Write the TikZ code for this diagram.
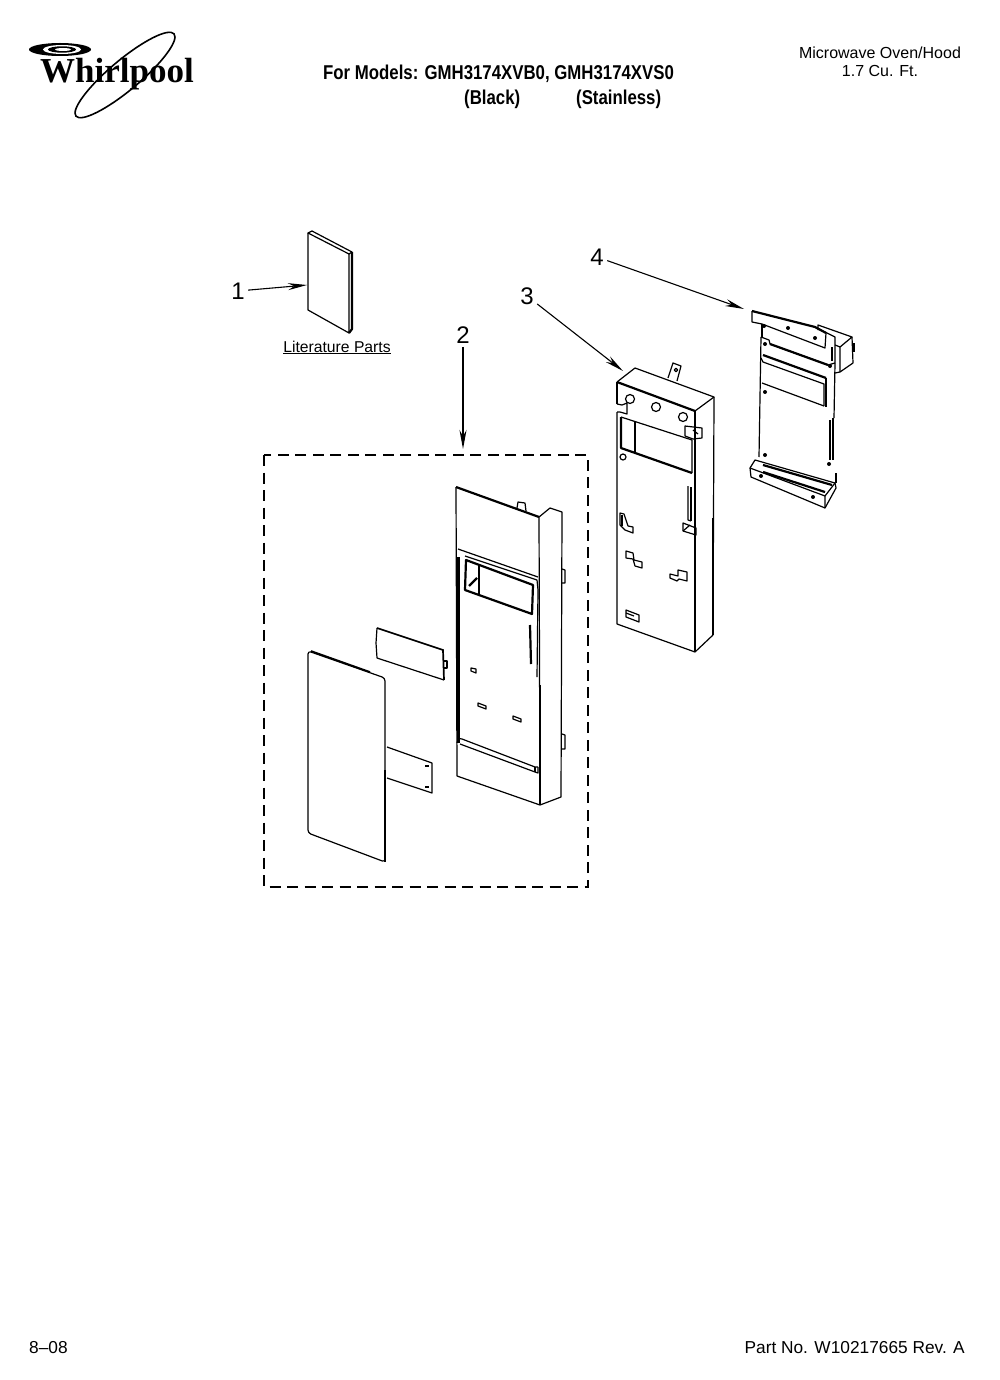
\documentclass[tikz,border=0pt]{standalone}
\usepackage{fontspec}
\setmainfont{Liberation Sans}
\newfontfamily\logofont{Liberation Serif}
\usetikzlibrary{arrows.meta}
\tikzset{
  part/.style={line width=1.2pt,line join=round},
  heavy/.style={line width=2.2pt,line join=round},
  callout/.style={font=\fontsize{24}{24}\selectfont},
  pointer/.style={line width=1.1pt,-{Stealth[length=19pt,width=7pt]}},
  smalltext/.style={font=\fontsize{16}{18}\selectfont},
  titletext/.style={font=\fontsize{20}{22}\selectfont\bfseries,xscale=.84},
}
\begin{document}
\begin{tikzpicture}[x=1pt,y=-1pt]
  \useasboundingbox (0,0) rectangle (1000,1380);
  % logo
  \draw[line width=1.6pt,rotate around={40:(125,75)}] (125,75) ellipse (64 and 15);
  \fill (60,49.5) ellipse (31 and 6.5);
  \fill[white] (62,49.5) ellipse (19 and 4.5);
  \fill (62,49.5) ellipse (14 and 3.2);
  \fill[white] (63,49.5) ellipse (8 and 1.5);
  \node[inner sep=0pt,anchor=base,font=\fontsize{35}{35}\selectfont\logofont\bfseries] (logo) at (117,83) {Whirlpool};
  % header and footer
  \node[titletext,anchor=base west,inner sep=0pt] (models) at (323,80) {For Models: GMH3174XVB0, GMH3174XVS0};
  \node[titletext,anchor=base west,inner sep=0pt] (black) at (464,105) {(Black)};
  \node[titletext,anchor=base west,inner sep=0pt] (stainless) at (576,105) {(Stainless)};
  \node[smalltext,inner sep=0pt] (oven) at (880,53) {Microwave Oven/Hood};
  \node[smalltext,inner sep=0pt] (size) at (880,71) {1.7 Cu. Ft.};
  \node[smalltext,font=\fontsize{17.3}{18}\selectfont,anchor=base west,inner sep=0pt] (date) at (29,1353) {8--08};
  \node[smalltext,font=\fontsize{17.3}{18}\selectfont,anchor=base east,inner sep=0pt] (partno) at (965,1353) {Part No. W10217665 Rev. A};
  % callouts
  \coordinate (tip1) at (307,285);
  \coordinate (tip2) at (463,449);
  \coordinate (tip3) at (623,371);
  \coordinate (tip4) at (744,309);
  \node[callout] (n1) at (238,291) {1};
  \node[callout] (n2) at (463,335) {2};
  \node[callout] (n3) at (527,296) {3};
  \node[callout] (n4) at (597,257) {4};
  \draw[pointer] (n1) -- (tip1);
  \draw[pointer] (n2) -- (tip2);
  \draw[pointer] (n3) -- (tip3);
  \draw[pointer] (n4) -- (tip4);
  % literature
  \draw[part] (308,233) -- (312,231) -- (352,252) -- (349,254) -- cycle;
  \draw[part] (308,233) -- (308,310) -- (349,333) -- (349,254);
  \draw[heavy] (352,252) -- (352,329) -- (349,333);
  \node[inner sep=0pt,font=\fontsize{15.7}{16}\selectfont] (lit) at (337,347.5) {\underline{Literature Parts}};
  % dashed group
  \draw[line width=1.3pt,dash pattern=on 11pt off 6.5pt] (264,455) rectangle (588,887);
  % panel 2, big flat sheet
  \draw[part,rounded corners=3pt] (308,651) -- (385,678) -- (385,862) -- (308,833) -- cycle;
  \draw[heavy] (385,770) -- (385,862);
  \draw[line width=1.7pt] (311,651) -- (370,672);
  % panel 2, small cover
  \draw[part] (377,628) -- (376,643) -- (377,658) -- (444,680);
  \draw[line width=1.7pt] (377,628) -- (443,650) -- (444,680);
  \draw[part] (444,661) -- (447,661) -- (447,668) -- (444,668);
  % panel 2, small strip
  \draw[part] (387,747) -- (432,763) -- (432,793) -- (387,778);
  \fill (425,765) rectangle (429,766.5);
  \fill (425,786) rectangle (429,787.5);
  % panel 2, housing
  \draw[heavy] (456,487) -- (539,517);
  \draw[part] (456,487) -- (457,776) -- (540,805) -- (539,517) -- (550,508) -- (562,512) -- (561,797) -- (540,805);
  \draw[part] (517,508) -- (518,502) -- (525,503) -- (526,511);
  \draw[part] (562,569) -- (565,570) -- (565,583) -- (562,583);
  \draw[part] (562,734) -- (565,735) -- (565,749) -- (562,749);
  \draw[part] (458,549) -- (538,577);
  \draw[part] (465,556) -- (537,580) -- (538,590) -- (537,677);
  \draw[line width=3pt] (458,557) -- (458,743);
  \draw[heavy] (540,685) -- (540,805);
  \draw[part] (457,743) .. controls (458,739) and (459,738) .. (462,739) -- (535,767) -- (538,767);
  \draw[part] (460,744) -- (535,772) -- (538,773) -- (538,767);
  \draw[part] (535,767) -- (535,772);
  \draw[heavy] (466,560) -- (533,585) -- (532,614) -- (465,590) -- cycle;
  \draw[part] (479,565) -- (479,595);
  \draw[heavy] (469,586) -- (477,578);
  \draw[heavy] (530,625) -- (531,664);
  \draw[part] (471,668) -- (476,669) -- (476,673) -- (471,671) -- cycle;
  \draw[part] (478,703) -- (486,706) -- (486,709) -- (478,706) -- cycle;
  \draw[part] (513,716) -- (521,719) -- (521,722) -- (513,719) -- cycle;
  % part 3
  \draw[heavy] (617,382) -- (695,411);
  \draw[part] (617,382) -- (635,368) -- (714,397) -- (695,411);
  \draw[heavy] (617,382) -- (617,404);
  \draw[part] (617,412) -- (617,624) -- (695,652) -- (713,635);
  \draw[heavy] (695,411) -- (695,652);
  \draw[part] (714,397) -- (713,635);
  \draw[heavy] (713,518) -- (713,635);
  \draw[part] (668,378) -- (673,363) -- (681,366) -- (677,381);
  \draw[part] (676,370) circle (1.8);
  \draw[part] (630,399) circle (4.5);
  \draw[part] (656,407) circle (4.5);
  \draw[part] (683,417) circle (4.5);
  \draw[part] (617,404) -- (622,405) -- (627,403) -- (627,414) -- (620,412) -- (617,412);
  \draw[part] (685,426) -- (702,428) -- (702,438) -- (693,439) -- (685,436) -- cycle;
  \draw[part] (693,430) -- (698,434);
  \draw[heavy] (621,417) -- (621,448) -- (692,473);
  \draw[part] (621,417) -- (692,440) -- (692,473);
  \draw[part] (635,422) -- (635,453);
  \draw[part] (623,457) circle (3);
  \draw[heavy] (691,487) -- (691,521);
  \draw[part] (688,486) -- (688,520) -- (691,521);
  \draw[part] (620,513) -- (624,514) -- (628,526) -- (633,527) -- (633,533) -- (625,530) -- (620,525) -- cycle;
  \draw[part] (622,515) -- (622,526);
  \draw[part] (683,523) -- (696,528) -- (696,535) -- (683,531) -- cycle;
  \draw[part] (683,531) -- (690,525);
  \draw[part] (626,551) -- (633,553) -- (634,560) -- (642,562) -- (642,568) -- (635,566) -- (633,559) -- (626,558) -- cycle;
  \draw[part] (670,574) -- (678,576) -- (678,570) -- (687,572) -- (687,581) -- (679,579) -- (677,581) -- (670,578) -- cycle;
  \draw[part] (626,610) -- (639,615) -- (639,622) -- (626,617) -- cycle;
  \draw[part] (626,613) -- (634,616);
  % part 4
  \draw[heavy] (752,311) -- (815,327) -- (826,333);
  \draw[part] (752,311) -- (752,322) -- (762,324) -- (825,348) -- (826,333);
  \draw[part] (815,327) -- (835,337) -- (835,363);
  \draw[heavy] (762,324) -- (762,337);
  \draw[part] (761,337) -- (769,340) -- (770,344) -- (828,365) -- (835,363);
  \draw[heavy] (770,344) -- (828,365);
  \draw[part] (761,337) -- (759,457);
  \draw[part] (835,363) -- (834,418);
  \draw[heavy] (832,347) -- (832,361);
  \draw[part] (818,330) -- (818,325) -- (852,337) -- (840,347) -- (840,372) -- (835,373);
  \draw[part] (852,337) -- (853,363) -- (840,372);
  \draw[part] (840,347) -- (835,345);
  \draw[heavy] (854,343) -- (854,352);
  \draw[heavy] (763,355) -- (826,378);
  \draw[part] (761,358) -- (763,362) -- (824,384) -- (824,406);
  \draw[heavy] (826,378) -- (826,407);
  \draw[part] (762,383) -- (824,406);
  \draw[heavy] (833,418) -- (833,460);
  \draw[part] (830,420) -- (830,460);
  \fill (764,326) circle (2) (788,328) circle (2) (815,338) circle (2) (765,344) circle (2);
  \fill (830,366) circle (2) (765,392) circle (2) (765,455) circle (2) (829,464) circle (2);
  \draw[part] (755,460) -- (835,483) -- (836,488) -- (825,508) -- (751,477) -- (750,468) -- cycle;
  \draw[part] (750,468) -- (825,496) -- (825,508);
  \draw[heavy] (763,465) -- (832,485);
  \draw[heavy] (763,472) -- (825,492);
  \draw[part] (825,496) -- (835,483);
  \draw[heavy] (836,473) -- (836,483);
  \fill (761,476) circle (2) (813,497) circle (2);
\end{tikzpicture}
\end{document}
